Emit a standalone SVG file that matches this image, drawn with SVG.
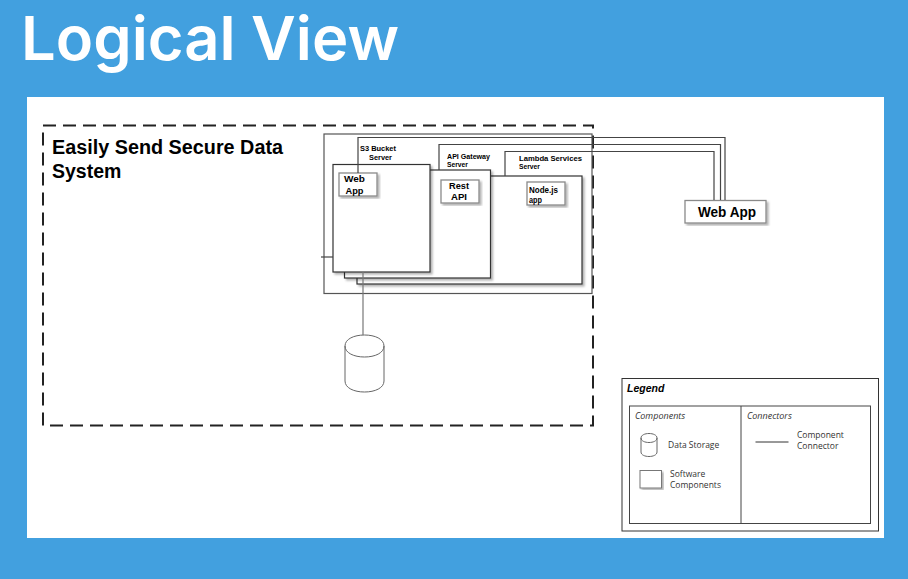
<svg xmlns="http://www.w3.org/2000/svg" width="908" height="579" viewBox="0 0 908 579">
<style>
.sans{font-family:"Liberation Sans",Arial,sans-serif;fill:#000}
.b{font-weight:bold}
.box{fill:#fff;stroke:#333;stroke-width:1.2;filter:url(#sh)}
.sm{fill:#fff;stroke:#8a8a8a;stroke-width:1.3;filter:url(#sh)}
.line{fill:none;stroke:#444;stroke-width:1.2}
.db{fill:none;stroke:#777;stroke-width:1.2}
.leg{font-family:"Open Sans","Noto Sans",sans-serif;font-size:8.5px;fill:#333}
.legi{font-size:9px;font-style:italic}
.cyl{fill:#fff;stroke:#666;stroke-width:1}
.lab{font-size:7.5px;font-weight:bold}
</style>
<defs>
<filter id="sh" x="-10%" y="-10%" width="120%" height="120%"><feDropShadow dx="2" dy="2" stdDeviation="1.3" flood-color="#000" flood-opacity="0.3"/></filter>
</defs>
<rect width="908" height="579" fill="#42a0df"/>
<rect x="27" y="97" width="857" height="441" fill="#fff"/>
<text x="21" y="60" font-family="Inter,'Open Sans',sans-serif" font-size="61" font-weight="600" fill="#fff" textLength="378" lengthAdjust="spacingAndGlyphs">Logical View</text>
<g id="system">
<rect x="43" y="125.500" width="550" height="300" fill="none" stroke="#222" stroke-width="2" stroke-dasharray="13 7"/>
<text class="sans b" font-size="19.500" x="52" y="154" textLength="231" lengthAdjust="spacingAndGlyphs">Easily Send Secure Data</text>
<text class="sans b" font-size="19.500" x="52" y="178">System</text>
</g>
<g id="container"><rect x="324" y="134" width="268" height="159.500" fill="none" stroke="#555" stroke-width="1.200"/></g>
<g id="lambda-server">
<rect class="box" x="357" y="176" width="225" height="108"/>
<text class="sans lab" x="519" y="160.500" textLength="63" lengthAdjust="spacingAndGlyphs">Lambda Services</text>
<text class="sans lab" x="519" y="169" textLength="21" lengthAdjust="spacingAndGlyphs">Server</text>
</g>
<g id="api-server">
<rect class="box" x="344.500" y="170" width="146" height="108"/>
<text class="sans lab" x="447" y="158.500" textLength="43" lengthAdjust="spacingAndGlyphs">API Gateway</text>
<text class="sans lab" x="447" y="167" textLength="21" lengthAdjust="spacingAndGlyphs">Server</text>
</g>
<g id="s3-server">
<rect class="box" x="333" y="164.500" width="97" height="107.500"/>
<text class="sans lab" x="360" y="150.500" textLength="36" lengthAdjust="spacingAndGlyphs">S3 Bucket</text>
<text class="sans lab" x="369" y="159.500" textLength="23" lengthAdjust="spacingAndGlyphs">Server</text>
</g>
<g id="web-app-small">
<rect class="sm" x="339" y="173" width="38" height="23"/>
<text class="sans b" font-size="9.500" x="344" y="182" textLength="21" lengthAdjust="spacingAndGlyphs">Web</text>
<text class="sans b" font-size="9.500" x="345.500" y="194" textLength="18" lengthAdjust="spacingAndGlyphs">App</text>
</g>
<g id="rest-api">
<rect class="sm" x="441" y="180" width="38" height="23"/>
<text class="sans b" font-size="9.500" x="449" y="189" textLength="20" lengthAdjust="spacingAndGlyphs">Rest</text>
<text class="sans b" font-size="9.500" x="451" y="200" textLength="16" lengthAdjust="spacingAndGlyphs">API</text>
</g>
<g id="nodejs-app">
<rect class="sm" x="527" y="182" width="38" height="23"/>
<text class="sans" font-size="8.500" font-weight="bold" x="529" y="193" textLength="29" lengthAdjust="spacingAndGlyphs">Node.js</text>
<text class="sans" font-size="8.500" font-weight="bold" x="529" y="203" textLength="13" lengthAdjust="spacingAndGlyphs">app</text>
</g>
<g id="web-app">
<rect class="sm" x="685" y="200.500" width="81" height="22.500"/>
<text class="sans b" font-size="14" x="698" y="217" textLength="58" lengthAdjust="spacingAndGlyphs">Web App</text>
</g>
<g id="database">
<path class="cyl" d="M345 346V381C345 388 354 392 364.500 392S384 388 384 381V346C384 339 375 335 364.500 335S345 339 345 346C345 353 354 357 364.500 357S384 353 384 346"/>
</g>
<g id="connectors">
<path class="line" d="M358 173V137.500H725V200"/>
<path class="line" d="M439 170V144.500H720.500V200"/>
<path class="line" d="M505 176V151.500H714V200"/>
<path class="line" d="M321 257H333"/>
<path class="db" d="M363 272V335"/>
</g>
<g id="legend">
<rect x="622" y="378.500" width="256.500" height="152.500" fill="#fff" stroke="#333" stroke-width="1"/>
<rect x="629.500" y="406" width="241" height="117.500" fill="none" stroke="#444" stroke-width="1"/>
<path d="M741 406V523.500" stroke="#444" fill="none"/>
<text class="sans b" font-style="italic" font-size="10.500" x="627" y="392">Legend</text>
<text class="leg legi" x="635" y="419">Components</text>
<text class="leg legi" x="747" y="419">Connectors</text>
<path class="cyl" d="M641 438V452C641 455 645 456.500 649 456.500S657 455 657 452V438C657 435 653 433.500 649 433.500S641 435 641 438C641 441 645 442.500 649 442.500S657 441 657 438"/>
<text class="leg" x="668" y="448">Data Storage</text>
<rect x="640" y="470.500" width="21.500" height="17.500" fill="#fff" stroke="#777" filter="url(#sh)"/>
<text class="leg" x="670" y="477">Software</text>
<text class="leg" x="670" y="488">Components</text>
<path d="M755.500 442H788.500" stroke="#333" fill="none"/>
<text class="leg" x="797" y="438">Component</text>
<text class="leg" x="797" y="448.500">Connector</text>
</g>
</svg>
